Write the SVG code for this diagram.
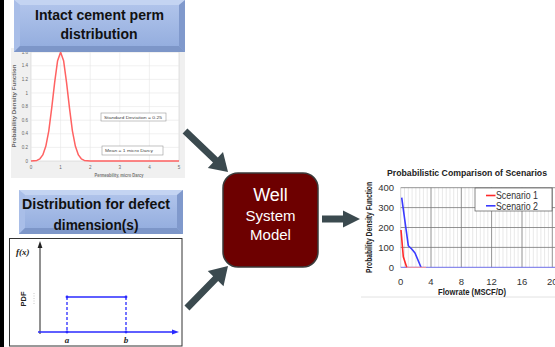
<svg xmlns="http://www.w3.org/2000/svg" width="555" height="347" viewBox="0 0 555 347">
<defs>
<linearGradient id="blueG" x1="0" y1="0" x2="0" y2="1">
<stop offset="0" stop-color="#b3c6ec"/>
<stop offset="1" stop-color="#91abdd"/>
</linearGradient>
<style>
.ttl{font-family:"Liberation Sans",Arial,sans-serif;font-weight:bold;font-size:14px;fill:#111;text-anchor:middle}
.tk1{font-family:"Liberation Sans",Arial,sans-serif;font-size:4.5px;fill:#666}
.g1{stroke:#e6e6e6;stroke-width:0.6;fill:none}
.leg1{font-family:"Liberation Sans",Arial,sans-serif;font-size:4.2px;fill:#444}
.ser{font-family:"Liberation Serif","Times New Roman",serif;font-style:italic;font-weight:bold;font-size:9px;fill:#222}
.blu{stroke:#2a2aff;stroke-width:1.3;fill:none}
.arw{fill:#3b4a4f}
.wtxt{font-family:"Liberation Sans",Arial,sans-serif;fill:#fff;text-anchor:middle}
.tk3{font-family:"Liberation Sans",Arial,sans-serif;font-size:9.5px;fill:#333}
.minor{stroke:#d9d9d9;stroke-width:0.6}
.major{stroke:#777;stroke-width:0.8}
.b3{font-family:"Liberation Sans",Arial,sans-serif;font-weight:bold;fill:#222}
</style>
</defs>
<rect x="0" y="0" width="555" height="347" fill="#fff"/>
<rect x="0" y="0" width="4" height="347" fill="#000"/>

<!-- Plot 1 -->
<g id="plot-perm">
<rect x="11" y="48" width="174" height="130" fill="#f0f0f0"/>
<rect x="31" y="52" width="148" height="109" fill="#fff" stroke="#cfcfcf" stroke-width="0.6"/>
<g class="g1">
<line x1="60.6" y1="52" x2="60.6" y2="161"/><line x1="90.2" y1="52" x2="90.2" y2="161"/>
<line x1="119.8" y1="52" x2="119.8" y2="161"/><line x1="149.4" y1="52" x2="149.4" y2="161"/>
<line x1="31" y1="147.4" x2="179" y2="147.4"/><line x1="31" y1="133.8" x2="179" y2="133.8"/>
<line x1="31" y1="120.2" x2="179" y2="120.2"/><line x1="31" y1="106.6" x2="179" y2="106.6"/>
<line x1="31" y1="93" x2="179" y2="93"/><line x1="31" y1="79.4" x2="179" y2="79.4"/>
<line x1="31" y1="65.8" x2="179" y2="65.8"/>
</g>
<g class="tk1" text-anchor="end">
<text x="28" y="162.5">0</text><text x="28" y="148.9">0.2</text><text x="28" y="135.3">0.4</text>
<text x="28" y="121.7">0.6</text><text x="28" y="108.1">0.8</text><text x="28" y="94.5">1</text>
<text x="28" y="80.9">1.2</text><text x="28" y="67.3">1.4</text><text x="28" y="53.7">1.6</text>
</g>
<g class="tk1" text-anchor="middle">
<text x="31" y="168.5">0</text><text x="60.6" y="168.5">1</text><text x="90.2" y="168.5">2</text>
<text x="119.8" y="168.5">3</text><text x="149.4" y="168.5">4</text><text x="179" y="168.5">5</text>
</g>
<text transform="translate(16,106) rotate(-90)" text-anchor="middle" font-family="Liberation Sans,Arial,sans-serif" font-weight="bold" font-size="5.2" fill="#666" textLength="83" lengthAdjust="spacingAndGlyphs">Probability Density Function</text>
<text x="119" y="176.5" text-anchor="middle" font-family="Liberation Sans,Arial,sans-serif" font-weight="bold" font-size="5.2" fill="#777" textLength="49" lengthAdjust="spacingAndGlyphs">Permeability, micro Darcy</text>
<path d="M31,161 L36.9,160.4 L39.9,158.8 L42.8,154.9 L45.8,146.3 L48.8,130.8 L51.7,108.1 L54.7,82.1 L57.6,60.7 L60.6,52.3 L63.6,60.7 L66.5,82.1 L69.5,108.1 L72.4,130.8 L75.4,146.3 L78.4,154.9 L81.3,158.8 L84.3,160.4 L90.2,161 L179,161" fill="none" stroke="#ff6262" stroke-width="1.5" stroke-linejoin="round"/>
<rect x="101" y="113" width="65" height="8" fill="#fff" stroke="#999" stroke-width="0.6"/>
<text class="leg1" x="104" y="118.6" textLength="58" lengthAdjust="spacingAndGlyphs">Standard Deviation = 0.25</text>
<rect x="102" y="146" width="61" height="9" fill="#fff" stroke="#999" stroke-width="0.6"/>
<text class="leg1" x="105" y="152" textLength="48" lengthAdjust="spacingAndGlyphs">Mean = 1 micro Darcy</text>
</g>

<!-- Title box 1 -->
<g id="title-perm">
<rect x="14" y="0" width="171" height="52" fill="url(#blueG)"/>
<polygon points="14,0 185,0 179,5 20,5" fill="#c4d4f2"/>
<polygon points="14,0 20,5 20,46 14,52" fill="#a9bee8"/>
<polygon points="185,0 185,52 179,46 179,5" fill="#8099cc"/>
<polygon points="14,52 185,52 179,46 20,46" fill="#7d96c8"/>
<text class="ttl" x="99.5" y="20" textLength="129" lengthAdjust="spacingAndGlyphs">Intact cement perm</text>
<text class="ttl" x="99" y="39.3" textLength="77" lengthAdjust="spacingAndGlyphs">distribution</text>
</g>

<!-- Title box 2 -->
<g id="title-defect">
<rect x="19" y="190" width="164" height="44" fill="url(#blueG)"/>
<polygon points="19,190 183,190 177,195 25,195" fill="#c4d4f2"/>
<polygon points="19,190 25,195 25,228 19,234" fill="#a9bee8"/>
<polygon points="183,190 183,234 177,228 177,195" fill="#8099cc"/>
<polygon points="19,234 183,234 177,228 25,228" fill="#7d96c8"/>
<text class="ttl" x="96" y="209.3" textLength="148" lengthAdjust="spacingAndGlyphs">Distribution for defect</text>
<text class="ttl" x="96" y="229.5" textLength="85" lengthAdjust="spacingAndGlyphs">dimension(s)</text>
</g>

<!-- Plot 2 -->
<g id="plot-uniform">
<rect x="9.5" y="238.5" width="172.5" height="107.5" fill="#fff" stroke="#333" stroke-width="1"/>
<line x1="40" y1="334" x2="40" y2="246" stroke="#222" stroke-width="1"/>
<polygon points="40,241 37.6,248 42.4,248" fill="#222"/>
<line x1="38" y1="332" x2="174" y2="332" stroke="#2a2aff" stroke-width="1.3"/>
<polygon points="179,332 172,329.6 172,334.4" fill="#2a2aff"/>
<line x1="67" y1="297" x2="126" y2="297" class="blu"/>
<line x1="67" y1="297" x2="67" y2="332" class="blu" stroke-dasharray="3,2"/>
<line x1="126" y1="297" x2="126" y2="332" class="blu" stroke-dasharray="3,2"/>
<g fill="#2a2aff"><circle cx="67" cy="297" r="1.4"/><circle cx="126" cy="297" r="1.4"/><circle cx="67" cy="332" r="1.4"/><circle cx="126" cy="332" r="1.4"/></g>
<line x1="34" y1="293" x2="34" y2="305" stroke="#bbb" stroke-width="0.8" stroke-dasharray="1,1.5"/>
<text class="ser" x="16" y="254.5">f(x)</text>
<text transform="translate(26,299) rotate(-90)" text-anchor="middle" font-family="Liberation Sans,Arial,sans-serif" font-weight="bold" font-size="7.5" fill="#222">PDF</text>
<text class="ser" x="67" y="343" text-anchor="middle">a</text>
<text class="ser" x="126" y="343" text-anchor="middle">b</text>
</g>

<!-- Connectors -->
<g id="connectors">
<path class="arw" transform="translate(185,131) rotate(43.6)" d="M0,-3.5 L42,-3.5 L42,-11 L59.4,0 L42,11 L42,3.5 L0,3.5 Z"/>
<path class="arw" transform="translate(187,308) rotate(-45.7)" d="M0,-3.5 L41,-3.5 L41,-11 L58.7,0 L41,11 L41,3.5 L0,3.5 Z"/>
<path class="arw" d="M322,215.5 L343,215.5 L343,210.5 L360,219 L343,227.5 L343,222.5 L322,222.5 Z"/>
</g>

<!-- Well System Model -->
<g id="well-model">
<rect x="223" y="173" width="95" height="94" rx="15" fill="#6d0000" stroke="#3a3a3a" stroke-width="1.5"/>
<text class="wtxt" x="270.5" y="201" font-size="18">Well</text>
<text class="wtxt" x="270.5" y="221" font-size="15">System</text>
<text class="wtxt" x="270.5" y="239.5" font-size="15">Model</text>
</g>

<!-- Plot 3 -->
<g id="plot-result">
<line x1="361" y1="297" x2="555" y2="297" stroke="#e2e2e2" stroke-width="1"/>
<text class="b3" x="467" y="176" text-anchor="middle" font-size="8.8" textLength="160" lengthAdjust="spacingAndGlyphs">Probabilistic Comparison of Scenarios</text>
<g class="minor">
<line x1="404.5" y1="187.7" x2="404.5" y2="267.3"/><line x1="408.3" y1="187.7" x2="408.3" y2="267.3"/>
<line x1="412.1" y1="187.7" x2="412.1" y2="267.3"/><line x1="415.9" y1="187.7" x2="415.9" y2="267.3"/>
<line x1="419.7" y1="187.7" x2="419.7" y2="267.3"/><line x1="423.4" y1="187.7" x2="423.4" y2="267.3"/>
<line x1="427.2" y1="187.7" x2="427.2" y2="267.3"/>
<line x1="434.8" y1="187.7" x2="434.8" y2="267.3"/><line x1="438.6" y1="187.7" x2="438.6" y2="267.3"/>
<line x1="442.4" y1="187.7" x2="442.4" y2="267.3"/><line x1="446.2" y1="187.7" x2="446.2" y2="267.3"/>
<line x1="450" y1="187.7" x2="450" y2="267.3"/><line x1="453.7" y1="187.7" x2="453.7" y2="267.3"/>
<line x1="457.5" y1="187.7" x2="457.5" y2="267.3"/>
<line x1="465.1" y1="187.7" x2="465.1" y2="267.3"/><line x1="468.9" y1="187.7" x2="468.9" y2="267.3"/>
<line x1="472.7" y1="187.7" x2="472.7" y2="267.3"/><line x1="476.5" y1="187.7" x2="476.5" y2="267.3"/>
<line x1="480.3" y1="187.7" x2="480.3" y2="267.3"/><line x1="484" y1="187.7" x2="484" y2="267.3"/>
<line x1="487.8" y1="187.7" x2="487.8" y2="267.3"/>
<line x1="495.4" y1="187.7" x2="495.4" y2="267.3"/><line x1="499.2" y1="187.7" x2="499.2" y2="267.3"/>
<line x1="503" y1="187.7" x2="503" y2="267.3"/><line x1="506.8" y1="187.7" x2="506.8" y2="267.3"/>
<line x1="510.6" y1="187.7" x2="510.6" y2="267.3"/><line x1="514.3" y1="187.7" x2="514.3" y2="267.3"/>
<line x1="518.1" y1="187.7" x2="518.1" y2="267.3"/>
<line x1="525.7" y1="187.7" x2="525.7" y2="267.3"/><line x1="529.5" y1="187.7" x2="529.5" y2="267.3"/>
<line x1="533.3" y1="187.7" x2="533.3" y2="267.3"/><line x1="537.1" y1="187.7" x2="537.1" y2="267.3"/>
<line x1="540.9" y1="187.7" x2="540.9" y2="267.3"/><line x1="544.6" y1="187.7" x2="544.6" y2="267.3"/>
<line x1="548.4" y1="187.7" x2="548.4" y2="267.3"/>
</g>
<line x1="400.7" y1="187.7" x2="400.7" y2="267.3" stroke="#bbb" stroke-width="0.6"/>
<g class="major">
<line x1="431" y1="187.7" x2="431" y2="267.3"/><line x1="461.3" y1="187.7" x2="461.3" y2="267.3"/>
<line x1="491.6" y1="187.7" x2="491.6" y2="267.3"/><line x1="522" y1="187.7" x2="522" y2="267.3"/>
<line x1="552.3" y1="187.7" x2="552.3" y2="267.3"/>
<line x1="400.7" y1="187.7" x2="555" y2="187.7"/><line x1="400.7" y1="207.6" x2="555" y2="207.6"/>
<line x1="400.7" y1="227.5" x2="555" y2="227.5"/><line x1="400.7" y1="247.4" x2="555" y2="247.4"/>
</g>
<line x1="400.7" y1="267.3" x2="555" y2="267.3" stroke="#6f6fe8" stroke-width="1"/>
<polyline points="401.7,197.7 408.3,245.7 411.7,249 415,253 421,267.3" fill="none" stroke="#3a3aff" stroke-width="1.6" stroke-linejoin="round"/>
<line x1="406.7" y1="267.3" x2="426" y2="267.3" stroke="#ff9a9a" stroke-width="1"/>
<polyline points="401,230 403.3,256.7 406.7,267.3" fill="none" stroke="#ff2a2a" stroke-width="1.6" stroke-linejoin="round"/>
<g class="tk3" text-anchor="end">
<text x="394" y="191">400</text><text x="394" y="211">300</text><text x="394" y="231">200</text>
<text x="394" y="251">100</text><text x="394" y="270.8">0</text>
</g>
<g class="tk3" text-anchor="middle">
<text x="400.7" y="284.5">0</text><text x="431" y="284.5">4</text><text x="461.3" y="284.5">8</text>
<text x="491.6" y="284.5">12</text><text x="522" y="284.5">16</text><text x="552.3" y="284.5">20</text>
</g>
<text class="b3" transform="translate(372,227.5) rotate(-90)" text-anchor="middle" font-size="8.5" textLength="91" lengthAdjust="spacingAndGlyphs">Probability Density Function</text>
<text class="b3" x="472" y="294.5" text-anchor="middle" font-size="8.5" textLength="68" lengthAdjust="spacingAndGlyphs">Flowrate (MSCF/D)</text>
<rect x="475" y="188" width="77" height="23" fill="#fff" stroke="#555" stroke-width="0.7"/>
<line x1="486" y1="195.5" x2="495.5" y2="195.5" stroke="#ff2a2a" stroke-width="1.6"/>
<line x1="486" y1="205.8" x2="495.5" y2="205.8" stroke="#3a3aff" stroke-width="1.6"/>
<text x="496" y="199.3" font-family="Liberation Sans,Arial,sans-serif" font-size="10" fill="#333" textLength="42" lengthAdjust="spacingAndGlyphs">Scenario 1</text>
<text x="496" y="209.6" font-family="Liberation Sans,Arial,sans-serif" font-size="10" fill="#333" textLength="42" lengthAdjust="spacingAndGlyphs">Scenario 2</text>
</g>
</svg>
